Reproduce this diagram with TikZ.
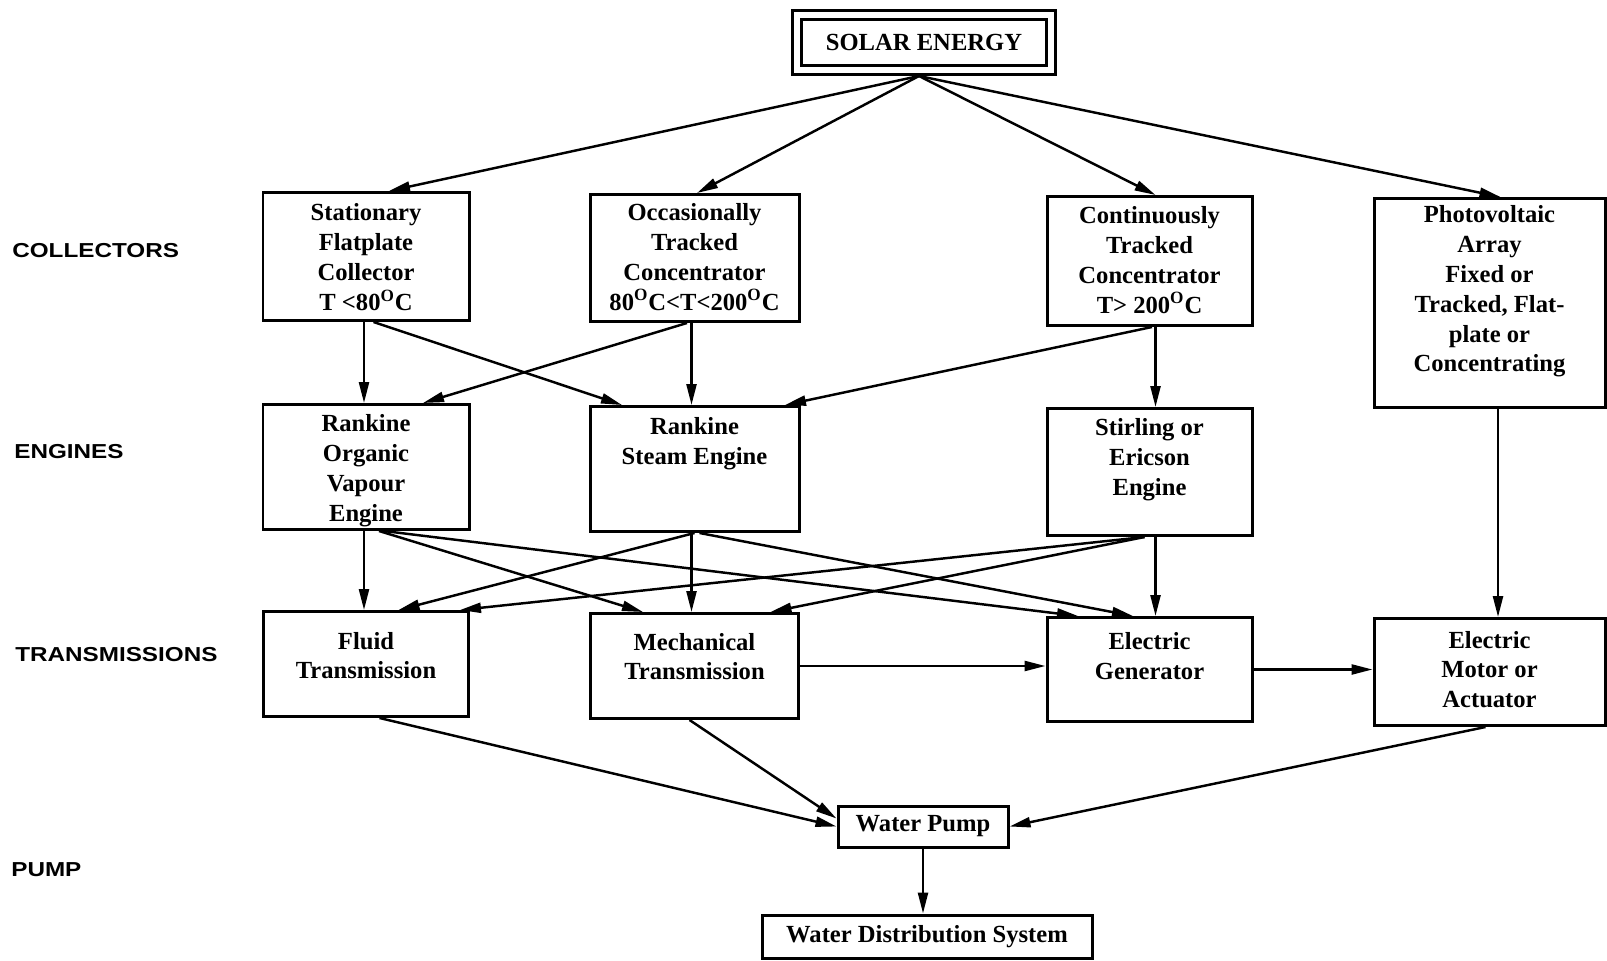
\documentclass[tikz,border=0pt]{standalone}
\usepackage{fontspec}
\setmainfont{Liberation Serif}
\newfontfamily\tierfont[FakeStretch=1.2]{Liberation Sans}
\usetikzlibrary{arrows.meta}

% box contents: height, first baseline, lines
\newcommand{\boxtext}[3]{\parbox[t][#1][t]{4cm}{\centering\rule{0pt}{#2}#3}}
\newcommand{\degC}{\textsuperscript{O}C}

\tikzset{
  unit/.style={draw, line width=1.7pt, anchor=north, inner sep=0pt,
    font=\fontsize{14}{17}\selectfont\bfseries},
  flow/.style={line width=1.4pt, -{Triangle[length=0.42cm,width=0.2cm]}},
  tier/.style={anchor=west, inner sep=0pt, font=\tierfont\bfseries\fontsize{11.5}{13}\selectfont},
}

\begin{document}
\begin{tikzpicture}
  \useasboundingbox (0,0) rectangle (32.14,-19.2);

  % Source
  \node[unit, anchor=center, double, double distance=0.12cm, outer sep=0.12cm,
    minimum width=5.08cm, minimum height=1.10cm] (solar) at (18.48,-0.85) {SOLAR ENERGY};

  % Row labels
  \foreach \name/\t/\x/\y in {lcol/COLLECTORS/0.24/-5.02, leng/ENGINES/0.28/-9.04,
      ltra/TRANSMISSIONS/0.30/-13.10, lpum/PUMP/0.22/-17.40}
    \node[tier] (\name) at (\x,\y) {\t};

  % Collectors
  \node[unit, minimum width=4.12cm] (stat) at (7.32,-3.82)
    {\boxtext{2.56cm}{16pt}{Stationary\\Flatplate\\Collector\\T <80\degC}};
  \node[unit, minimum width=4.18cm] (occ) at (13.89,-3.86)
    {\boxtext{2.54cm}{14.8pt}{Occasionally\\Tracked\\Concentrator\\80\degC<T<200\degC}};
  \node[unit, minimum width=4.10cm] (cont) at (22.99,-3.90)
    {\boxtext{2.58cm}{15.4pt}{Continuously\\Tracked\\Concentrator\\T> 200\degC}};
  \node[unit, minimum width=4.62cm] (pv) at (29.79,-3.94)
    {\boxtext{4.18cm}{13.7pt}{Photovoltaic\\Array\\Fixed or\\Tracked, Flat-\\plate or\\Concentrating}};

  % Engines
  \node[unit, minimum width=4.12cm] (roe) at (7.32,-8.06)
    {\boxtext{2.50cm}{15.4pt}{Rankine\\Organic\\Vapour\\Engine}};
  \node[unit, minimum width=4.18cm] (steam) at (13.89,-8.10)
    {\boxtext{2.50cm}{16pt}{Rankine\\Steam Engine}};
  \node[unit, minimum width=4.10cm] (stir) at (22.99,-8.14)
    {\boxtext{2.54cm}{15.4pt}{Stirling or\\Ericson\\Engine}};

  % Transmissions
  \node[unit, minimum width=4.10cm] (fluid) at (7.32,-12.20)
    {\boxtext{2.10cm}{21.4pt}{Fluid\\Transmission}};
  \node[unit, minimum width=4.16cm] (mech) at (13.89,-12.24)
    {\boxtext{2.10cm}{20.8pt}{Mechanical\\Transmission}};
  \node[unit, minimum width=4.10cm] (gen) at (22.99,-12.32)
    {\boxtext{2.08cm}{18pt}{Electric\\Generator}};
  \node[unit, minimum width=4.62cm] (motor) at (29.79,-12.34)
    {\boxtext{2.14cm}{16.8pt}{Electric\\Motor or\\Actuator}};

  % Pump
  \node[unit, anchor=center, minimum width=3.40cm, minimum height=0.82cm] (pump) at (18.46,-16.53) {Water Pump};
  \node[unit, anchor=center, minimum width=6.60cm, minimum height=0.86cm] (dist) at (18.54,-18.73) {Water Distribution System};

  % Solar energy to the collectors
  \foreach \b/\s in {stat/0.46, occ/0.05, cont/0.12, pv/0.22}
    \draw[flow] ([xshift=-0.1cm]solar.south) -- ([xshift=\s cm]\b.north);

  % Straight down
  \foreach \a/\b/\s in {stat/roe/-0.04, occ/steam/-0.06, cont/stir/0.12, pv/motor/0.17,
      roe/fluid/-0.04, steam/mech/-0.06, stir/gen/0.12}
    \draw[flow] ([xshift=\s cm]\a.south) -- ([xshift=\s cm]\b.north);

  % Crossing links
  \foreach \a/\s/\b/\t in {stat/0.15/steam/-1.45, occ/-0.15/roe/1.14, cont/0.05/steam/1.81,
      roe/0.26/mech/-1.03, roe/0.36/gen/-1.43, steam/0/fluid/0.65, steam/0.1/gen/-0.33,
      stir/-0.1/fluid/1.88, stir/-0.1/mech/1.52}
    \draw[flow] ([xshift=\s cm]\a.south) -- ([xshift=\t cm]\b.north);

  % Electric chain
  \draw[flow] (mech.east) -- (mech.east -| gen.west);
  \draw[flow] (gen.east) -- (gen.east -| motor.west);

  % Into the pump
  \draw[flow] ([xshift=0.27cm]fluid.south) -- (pump.west);
  \draw[flow] ([xshift=-0.1cm]mech.south) -- ([yshift=0.16cm]pump.west);
  \draw[flow] ([xshift=-0.08cm]motor.south) -- (pump.east);
  \draw[flow] (pump) -- (pump |- dist.north);
\end{tikzpicture}
\end{document}
